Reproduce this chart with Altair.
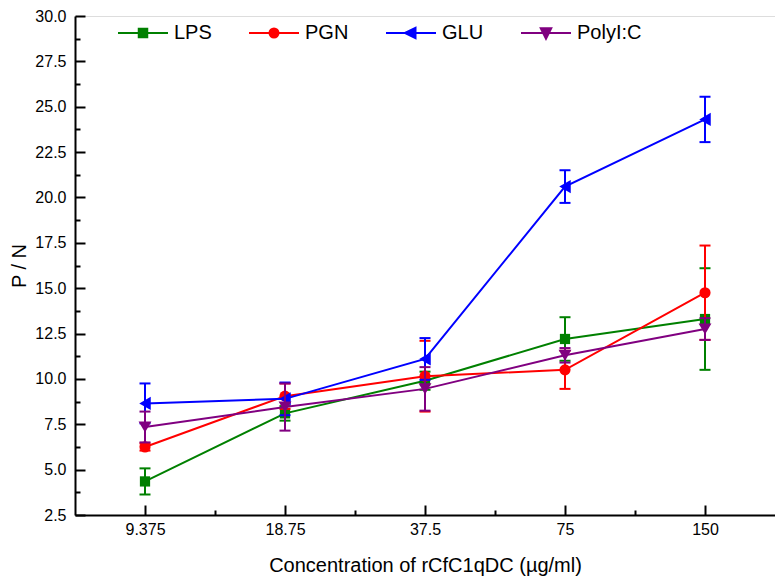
import math
import altair as alt
import pandas as pd

concs = ["9.375", "18.75", "37.5", "75", "150"]
series = ["LPS", "PGN", "GLU", "PolyI:C"]
colors = ["#008000", "#FF0000", "#0000FF", "#800080"]
shapes = ["square", "circle", "triangle-left", "triangle-down"]
marker_sizes = [105, 125, 175, 165]

lps = [4.35, 8.1, 9.9, 12.2, 13.3]
lps_err = [0.72, 0.4, 0.5, 1.2, 2.8]
pgn = [6.25, 9.05, 10.15, 10.5, 14.75]
pgn_err = [0.2, 0.7, 1.95, 1.05, 2.6]
glu = [8.65, 8.9, 11.1, 20.6, 24.3]
glu_err = [1.1, 0.9, 1.15, 0.9, 1.25]
polyic = [7.35, 8.45, 9.45, 11.3, 12.75]
polyic_err = [0.85, 1.3, 1.2, 0.4, 0.6]

y_major = [2.5 + 2.5 * i for i in range(12)]
y_minor = [3.75 + 2.5 * i for i in range(11)]
x_major = [0, 1, 2, 3, 4]
x_minor = [0.5, 1.5, 2.5, 3.5]


# ---- legend glyphs: a line through a (hatch-filled) marker, unit coords ----
def f(v):
    return "%.3f" % v


HATCH = [-0.15, -0.1, -0.05, 0.05, 0.1, 0.15]


def square_path():
    h = 0.17
    p = "M-1,0H1M-%s,-%sH%sV%sH-%sZ" % (f(h), f(h), f(h), f(h), f(h))
    for y in HATCH:
        p += "M%s,%sH%s" % (f(-h), f(y), f(h))
    return p


def circle_path():
    r = 0.18
    p = "M-1,0H1M%s,0A%s,%s 0 1,1 %s,0A%s,%s 0 1,1 %s,0Z" % (f(r), f(r), f(r), f(-r), f(r), f(r), f(r))
    for y in HATCH:
        w = math.sqrt(max(r * r - y * y, 0))
        p += "M%s,%sH%s" % (f(-w), f(y), f(w))
    return p


def tri_left_path():
    xl, xr, hh = -0.24, 0.18, 0.21
    p = "M-1,0H1M%s,0L%s,-%sL%s,%sZ" % (f(xl), f(xr), f(hh), f(xr), f(hh))
    for y in HATCH:
        x0 = xl + abs(y) / hh * (xr - xl)
        p += "M%s,%sH%s" % (f(x0), f(y), f(xr))
    return p


def tri_down_path():
    yt, yb, hw = -0.19, 0.23, 0.21
    p = "M-1,0H1M-%s,%sL%s,%sL0,%sZ" % (f(hw), f(yt), f(hw), f(yt), f(yb))
    for y in [-0.15, -0.1, -0.05, 0.05, 0.1]:
        w = hw * (yb - y) / (yb - yt)
        p += "M%s,%sH%s" % (f(-w), f(y), f(w))
    return p


legend_paths = [square_path(), circle_path(), tri_left_path(), tri_down_path()]

rows = []
for s, vals, errs in zip(series, [lps, pgn, glu, polyic], [lps_err, pgn_err, glu_err, polyic_err]):
    for i, (v, e) in enumerate(zip(vals, errs)):
        rows.append({"series": s, "idx": i, "conc": concs[i], "value": v,
                     "low": v - e, "high": v + e})
df = pd.DataFrame(rows)
caps = pd.concat([
    df[["series", "idx"]].assign(cap=df["low"]),
    df[["series", "idx"]].assign(cap=df["high"]),
])

W, H = 700, 499
FONT = "Liberation Sans"

xscale = alt.Scale(domain=[-0.5, 4.5], nice=False, zero=False)
yscale = alt.Scale(domain=[2.5, 30], nice=False, zero=False)

label_expr = "[" + ",".join("'%s'" % c for c in concs) + "][datum.value]"

ax_x_main = alt.Axis(orient="bottom", values=x_major, labelExpr=label_expr, ticks=False,
                     grid=False, domainColor="black", domainWidth=2, labelFontSize=16,
                     labelFont=FONT, labelColor="black", labelPadding=6,
                     title="Concentration of rCfC1qDC (µg/ml)", titleFontSize=20,
                     titleFont=FONT, titleFontWeight="normal", titleColor="black",
                     titlePadding=18)
ax_y_main = alt.Axis(orient="left", values=y_major, format=".1f", ticks=False, grid=False,
                     domainColor="black", domainWidth=2, labelFontSize=16, labelFont=FONT,
                     labelColor="black", labelPadding=9, title="P / N", titleFontSize=20,
                     titleFont=FONT, titleFontWeight="normal", titleColor="black",
                     titlePadding=5)
ax_x_major = alt.Axis(orient="top", offset=-H, values=x_major, tickSize=10, tickWidth=2,
                      tickColor="black", labels=False, domain=False, grid=False, title="")
ax_y_major = alt.Axis(orient="right", offset=-W, values=y_major, tickSize=10, tickWidth=2,
                      tickColor="black", labels=False, domain=False, grid=False, title="")
ax_x_minor = alt.Axis(orient="top", offset=-H, values=x_minor, tickSize=5, tickWidth=2,
                      tickColor="black", labels=False, domain=False, grid=False, title="")
ax_y_minor = alt.Axis(orient="right", offset=-W, values=y_minor, tickSize=5, tickWidth=2,
                      tickColor="black", labels=False, domain=False, grid=False, title="")

layers = []
for k, (s, col, sh, ms) in enumerate(zip(series, colors, shapes, marker_sizes)):
    first = k == 0
    d = alt.Chart(df).transform_filter(alt.datum.series == s)
    c = alt.Chart(caps).transform_filter(alt.datum.series == s)
    line = d.mark_line(strokeWidth=2, color=col).encode(
        x=alt.X("idx:Q", scale=xscale, axis=ax_x_main if first else None),
        y=alt.Y("value:Q", scale=yscale, axis=ax_y_main if first else None),
    )
    bar = d.mark_rule(strokeWidth=2, color=col).encode(
        x=alt.X("idx:Q", scale=xscale, axis=ax_x_major if first else None),
        y=alt.Y("low:Q", scale=yscale, axis=ax_y_major if first else None),
        y2="high:Q",
    )
    cap = c.mark_tick(thickness=2, size=11, orient="horizontal", opacity=1, color=col).encode(
        x=alt.X("idx:Q", scale=xscale, axis=ax_x_minor if first else None),
        y=alt.Y("cap:Q", scale=yscale, axis=ax_y_minor if first else None),
    )
    pts = d.mark_point(filled=True, size=ms, opacity=1, shape=sh, color=col).encode(
        x=alt.X("idx:Q", scale=xscale, axis=None),
        y=alt.Y("value:Q", scale=yscale, axis=None),
    )
    layers += [line, bar, cap, pts]

leg = alt.Legend(orient="none", legendX=42, legendY=-9, direction="horizontal", columns=4,
                 symbolSize=2500, symbolStrokeWidth=2, symbolOpacity=1, labelFontSize=20,
                 labelFont=FONT, labelColor="black", labelOffset=5, columnPadding=33,
                 title=None)

legend_layer = alt.Chart(df).mark_point(size=2500, opacity=0, filled=False, strokeWidth=2).encode(
    x=alt.X("idx:Q", scale=xscale, axis=None),
    y=alt.Y("value:Q", scale=yscale, axis=None),
    color=alt.Color("series:N", scale=alt.Scale(domain=series, range=colors), legend=leg),
    shape=alt.Shape("series:N", scale=alt.Scale(domain=series, range=legend_paths), legend=leg),
)

chart = alt.layer(*layers, legend_layer).resolve_axis(
    x="independent", y="independent"
).properties(
    width=W, height=H,
    autosize=alt.AutoSizeParams(type="none"),
    padding={"left": 67, "top": 8, "right": 0, "bottom": 61},
).configure_view(stroke=None).configure(background="white")

chart.save("out.html", embed_options={"renderer": "svg", "actions": False})
